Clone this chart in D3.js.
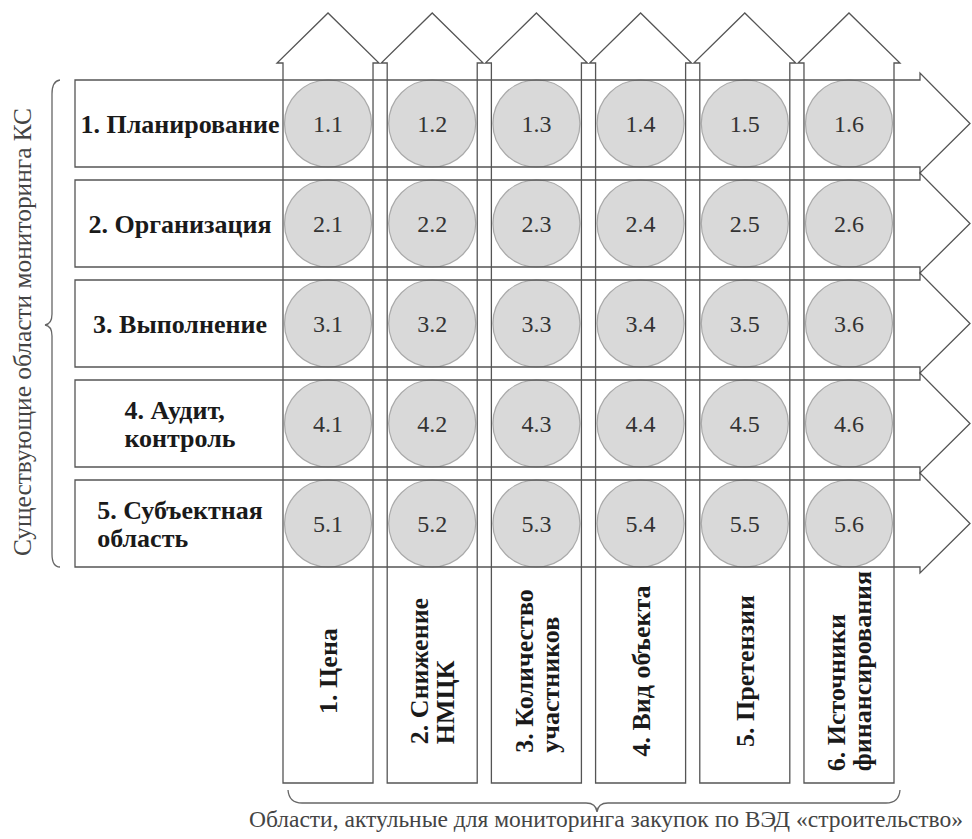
<!DOCTYPE html>
<html>
<head>
<meta charset="utf-8">
<script src="https://cdn.jsdelivr.net/npm/d3@7"></script>
<style>
  body { margin: 0; background: #fff; }
  svg { display: block; }
</style>
</head>
<body>
<div id="chart"></div>
<script>
// rows: existing areas of monitoring
var rowLabels = [
	["1. Планирование"],
	["2. Организация"],
	["3. Выполнение"],
	["4. Аудит,", "контроль"],
	["5. Субъектная", "область"]
];

// columns: areas relevant for monitoring construction purchases
var colLabels = [
	["1. Цена"],
	["2. Снижение", "НМЦК"],
	["3. Количество", "участников"],
	["4. Вид объекта"],
	["5. Претензии"],
	["6. Источники", "финансирования"]
];

var cellCodes = [
	["1.1", "1.2", "1.3", "1.4", "1.5", "1.6"],
	["2.1", "2.2", "2.3", "2.4", "2.5", "2.6"],
	["3.1", "3.2", "3.3", "3.4", "3.5", "3.6"],
	["4.1", "4.2", "4.3", "4.4", "4.5", "4.6"],
	["5.1", "5.2", "5.3", "5.4", "5.5", "5.6"]
];

var leftTitle = "Существующие области мониторинга КС";
var bottomTitle = "Области, актульные для мониторинга закупок по ВЭД «строительство»";

var width = 972,
	height = 839,
	lineColor = "#555",
	serif = "'Liberation Serif'";

var svg = d3.select("#chart")
	.append("svg")
	.attr("width", width)
	.attr("height", height);

var y = d3.scaleBand()
	.domain(d3.range(rowLabels.length))
	.range([80, 567])
	.paddingInner(0.13);

var x = d3.scaleBand()
	.domain(d3.range(colLabels.length))
	.range([283, 894])
	.paddingInner(0.136);

var rowLeft = 75,
	rowShaftEnd = 920,
	rowTip = 970,
	colTop = 63,
	colTipY = 13,
	colBottom = 783;

// circles first, outlines go on top
var cells = [];
cellCodes.forEach(function(row, i) {
	row.forEach(function(code, j) {
		cells.push({ r: i, c: j, code: code });
	});
});

svg.selectAll("circle.cell")
	.data(cells)
	.enter().append("circle")
	.attr("class", "cell")
	.attr("cx", function(d) { return x(d.c) + x.bandwidth() / 2; })
	.attr("cy", function(d) { return y(d.r) + y.bandwidth() / 2; })
	.attr("r", Math.min(x.bandwidth(), y.bandwidth()) / 2)
	.style("fill", "#d9d9d9")
	.style("stroke", "#aaa")
	.style("stroke-width", 1.2);

svg.selectAll("text.code")
	.data(cells)
	.enter().append("text")
	.attr("class", "code")
	.attr("x", function(d) { return x(d.c) + x.bandwidth() / 2; })
	.attr("y", function(d) { return y(d.r) + y.bandwidth() / 2; })
	.attr("dy", "0.35em")
	.attr("text-anchor", "middle")
	.style("font-family", serif)
	.style("font-size", "24px")
	.style("fill", "#333")
	.text(function(d) { return d.code; });

// horizontal arrows
svg.selectAll("path.row")
	.data(rowLabels)
	.enter().append("path")
	.attr("class", "row")
	.attr("d", function(d, i) {
		var t = y(i), b = y(i) + y.bandwidth(), m = (t + b) / 2;
		return "M" + rowLeft + "," + t +
			"H" + rowShaftEnd + "V" + (t - 7) +
			"L" + rowTip + "," + m +
			"L" + rowShaftEnd + "," + (b + 6) +
			"V" + b + "H" + rowLeft + "Z";
	})
	.style("fill", "none")
	.style("stroke", lineColor)
	.style("stroke-width", 1.3);

// vertical arrows
svg.selectAll("path.col")
	.data(colLabels)
	.enter().append("path")
	.attr("class", "col")
	.attr("d", function(d, j) {
		var l = x(j), r = x(j) + x.bandwidth(), m = (l + r) / 2;
		return "M" + l + "," + colBottom +
			"V" + colTop + "H" + (l - 6) +
			"L" + m + "," + colTipY +
			"L" + (r + 6) + "," + colTop +
			"H" + r + "V" + colBottom + "Z";
	})
	.style("fill", "none")
	.style("stroke", lineColor)
	.style("stroke-width", 1.3);

// row labels
var rowText = svg.selectAll("text.rowlabel")
	.data(rowLabels)
	.enter().append("text")
	.attr("class", "rowlabel")
	.style("font-family", serif)
	.style("font-size", "26px")
	.style("font-weight", "bold")
	.style("fill", "#1a1a1a");

rowText.each(function(lines, i) {
	var g = d3.select(this),
		cx = (rowLeft + x(0)) / 2 + 1,
		cy = y(i) + y.bandwidth() / 2,
		lh = 28;
	lines.forEach(function(line, k) {
		g.append("tspan")
			.attr("y", cy + (k - (lines.length - 1) / 2) * lh)
			.attr("dy", "0.35em")
			.text(line);
	});
	if (lines.length === 1) {
		g.attr("text-anchor", "middle").selectAll("tspan").attr("x", cx);
	} else {
		var w = d3.max(g.selectAll("tspan").nodes(), function(n) { return n.getComputedTextLength(); });
		g.attr("text-anchor", "start").selectAll("tspan").attr("x", cx - w / 2);
	}
});

// column labels, rotated
var labelMid = (y(rowLabels.length - 1) + y.bandwidth() + colBottom) / 2 - 4;
svg.selectAll("text.collabel")
	.data(colLabels)
	.enter().append("text")
	.attr("class", "collabel")
	.style("font-family", serif)
	.style("font-size", "26px")
	.style("font-weight", "bold")
	.style("fill", "#1a1a1a")
	.each(function(lines, j) {
		var g = d3.select(this),
			cx = x(j) + x.bandwidth() / 2,
			lh = 26;
		g.attr("transform", "translate(" + cx + "," + labelMid + ") rotate(-90)");
		lines.forEach(function(line, k) {
			g.append("tspan")
				.attr("y", (k - (lines.length - 1) / 2) * lh)
				.attr("dy", "0.35em")
				.text(line);
		});
		var w = d3.max(g.selectAll("tspan").nodes(), function(n) { return n.getComputedTextLength(); });
		g.attr("text-anchor", "start").selectAll("tspan").attr("x", -w / 2);
	});

// braces
svg.append("path")
	.attr("d", "M60,80 Q52,81 52,94 V314 Q52,324 45,325 Q52,326 52,336 V554 Q52,567 60,567")
	.style("fill", "none")
	.style("stroke", "#666")
	.style("stroke-width", 1.3);

svg.append("path")
	.attr("d", "M288,790 Q289,803 302,803 H586 Q596,803 597,812 Q598,803 608,803 H886 Q899,803 900,790")
	.style("fill", "none")
	.style("stroke", "#666")
	.style("stroke-width", 1.3);

// titles, sized to the span they take in the figure
function fitText(sel, target) {
	var w = sel.node().getComputedTextLength();
	sel.style("font-size", (24 * target / w).toFixed(1) + "px");
}

var left = svg.append("text")
	.attr("transform", "translate(22,332) rotate(-90)")
	.attr("text-anchor", "middle")
	.attr("dy", "0.35em")
	.style("font-family", serif)
	.style("font-size", "24px")
	.style("fill", "#444")
	.text(leftTitle);
fitText(left, 449);

var bottom = svg.append("text")
	.attr("x", 606)
	.attr("y", 827)
	.attr("text-anchor", "middle")
	.style("font-family", serif)
	.style("font-size", "24px")
	.style("fill", "#444")
	.text(bottomTitle);
fitText(bottom, 714);
</script>
</body>
</html>
